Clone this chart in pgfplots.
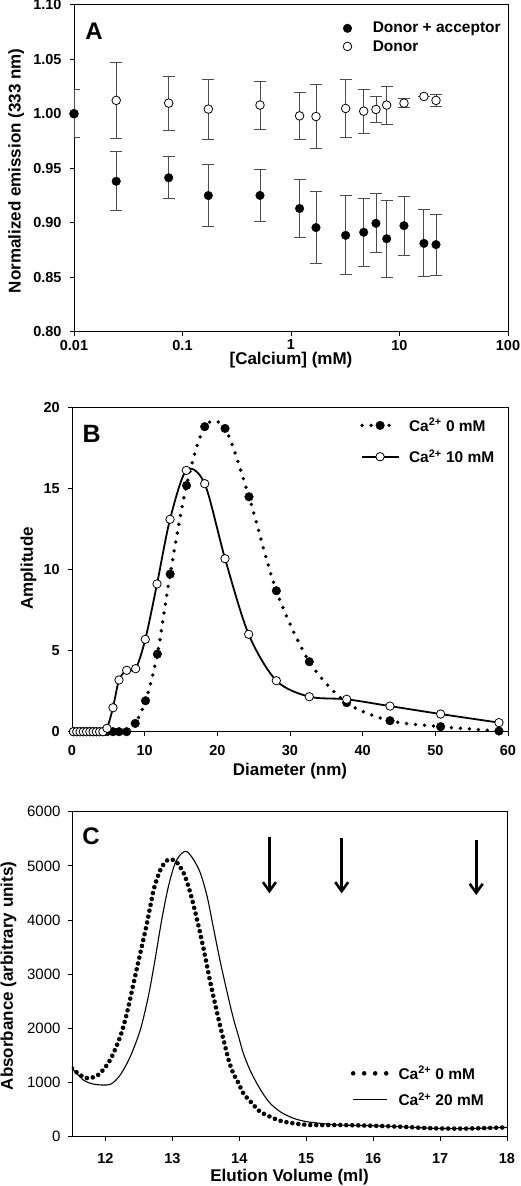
\documentclass[border=0pt]{standalone}
\usepackage{fontspec}
\setmainfont{Liberation Sans}
\usepackage{pgfplots}
\pgfplotsset{compat=1.18}
\usetikzlibrary{arrows.meta}

\pgfplotsset{
  common/.style={
    scale only axis,
    anchor=south west,
    axis line style={line width=0.8pt, black},
    tick align=outside, tick pos=left,
    major tick length=4pt,
    tick style={line width=0.8pt, black},
    ticklabel style={font=\bfseries\fontsize{14.5}{16}\selectfont, inner sep=0pt},
    /pgf/number format/assume math mode=true,
    label style={font=\bfseries\fontsize{17}{19}\selectfont, anchor=center},
    clip mode=individual,
    legend cell align=left,
    scaled ticks=false,
  },
  eb/.style={error bars/.cd, y dir=both, y explicit,
    error bar style={line width=0.9pt, black!70},
    error mark options={rotate=90, mark size=6pt, line width=0.9pt, black!70}},
  markimg/.style={legend image code/.code={\draw[##1] plot coordinates {(0pt,0pt)};}},
  marklineimg/.style={legend image code/.code={\draw[##1, mark repeat=2, mark phase=2] plot coordinates {(-18pt,0pt) (0pt,0pt) (18pt,0pt)};}},
  dotimg/.style={legend image code/.code={\draw[##1, dash pattern=on 0pt off 11pt] plot coordinates {(-17pt,0pt) (17pt,0pt)};}},
  lineimg/.style={legend image code/.code={\draw[##1] plot coordinates {(-17pt,0pt) (17pt,0pt)};}},
}

\begin{document}
\begin{tikzpicture}
\path[use as bounding box] (0pt,0pt) rectangle (520pt,1186pt);

% ---------------- Panel A ----------------
\begin{axis}[common,
  at={(74pt,854.3pt)}, width=434pt, height=327pt,
  xmode=log, xmin=0.01, xmax=100, ymin=0.8, ymax=1.1,
  xtick={0.01,0.1,1,10,100}, xticklabels={0.01,0.1,1,10,100},
  xminorticks=false,
  ytick={0.8,0.85,0.9,0.95,1.0,1.05,1.1},
  yticklabels={0.80,0.85,0.90,0.95,1.00,1.05,1.10},
  xticklabel shift=4pt, yticklabel shift=8.3pt,
  xlabel={[Calcium] (mM)}, ylabel={Normalized emission (333 nm)},
  xlabel style={at={(axis description cs:0.5,-0.088)}},
  ylabel style={at={(axis description cs:-0.133,0.492)}},
  reverse legend,
  legend style={at={(axis description cs:0.6198,0.947)}, anchor=north west,
    draw=none, fill=none, inner sep=0pt, row sep=6pt,
    font=\bfseries\fontsize{15.5}{17}\selectfont,
    nodes={inner sep=0pt},
    /tikz/every odd column/.append style={column sep=21pt}},
]
\addplot[only marks, mark=*, mark size=4.3pt, mark options={fill=white, draw=black, line width=0.8pt},
  markimg, eb]
  table[x=x, y=y, y error plus=ep, y error minus=em] {
x y ep em
0.01 1.000 0.0226 0.022
0.0245 1.0122 0.035 0.0351
0.0746 1.0097 0.0243 0.0249
0.173 1.0042 0.027 0.0277
0.518 1.0079 0.0218 0.0225
1.20 0.998 0.0216 0.0215
1.70 0.9974 0.0292 0.0294
3.19 1.0048 0.0267 0.027
4.68 1.0023 0.02 0.0203
6.07 1.0039 0.0116 0.012
7.62 1.0079 0.0169 0.0175
11.0 1.0097 0.0043 0.0043
16.8 1.0158 0 0
21.7 1.0122 0.0052 0.0059
};
\addlegendentry{Donor}
\addplot[only marks, mark=*, mark size=4.3pt, mark options={fill=black, draw=black},
  markimg, eb]
  table[x=x, y=y, y error plus=ep, y error minus=em] {
x y ep em
0.01 1.000 0.0226 0.022
0.0245 0.938 0.0278 0.027
0.0746 0.9412 0.02 0.0193
0.173 0.9249 0.0283 0.0279
0.518 0.925 0.0242 0.0237
1.20 0.913 0.027 0.0265
1.70 0.8955 0.0331 0.0329
3.19 0.8884 0.0365 0.0363
4.68 0.8912 0.031 0.0311
6.07 0.8994 0.0271 0.0264
7.62 0.8853 0.035 0.0353
11.0 0.8973 0.027 0.027
16.8 0.881 0.0313 0.0304
21.7 0.8799 0.0278 0.0287
};
\addlegendentry{Donor + acceptor}
\node[font=\bfseries\fontsize{24}{26}\selectfont, inner sep=0pt] at (axis description cs:0.046,0.919) {A};
\end{axis}

% ---------------- Panel B ----------------
\begin{axis}[common,
  at={(72pt,454.3pt)}, width=436pt, height=324pt,
  xmin=0, xmax=60, ymin=0, ymax=20,
  xtick={0,10,...,60}, ytick={0,5,...,20},
  xticklabel shift=9.3pt, yticklabel shift=8pt,
  xlabel={Diameter (nm)}, ylabel={Amplitude},
  xlabel style={at={(axis description cs:0.5,-0.121)}},
  ylabel style={at={(axis description cs:-0.100,0.504)}},
  legend style={at={(axis description cs:0.6606,0.968)}, anchor=north west,
    draw=none, fill=none, inner sep=0pt, row sep=17pt,
    font=\bfseries\fontsize{15.5}{17}\selectfont,
    nodes={inner sep=0pt},
    /tikz/every odd column/.append style={column sep=9pt}},
]
\addplot[smooth, black, line width=3.8pt, line cap=round, dash pattern=on 0pt off 9pt,
  mark=*, mark size=4.3pt, mark options={solid, fill=black, line width=0.4pt},
  marklineimg]
  table {
x y
0.2 0
0.65 0
1.1 0
1.55 0
2.0 0
2.45 0
2.9 0
3.35 0
3.8 0
4.25 0
4.82 0
5.64 0
6.47 0
7.52 0
8.70 0.51
10.12 1.91
11.75 4.79
13.51 9.73
15.76 15.2
18.26 18.83
21.06 18.72
24.36 14.5
28.12 8.70
32.66 4.32
37.80 1.79
43.76 0.68
50.73 0.31
58.76 0.04
};
\addlegendentry{Ca\textsuperscript{2+} 0 mM}
\addplot[smooth, black, line width=1.8pt,
  mark=*, mark size=4.2pt, mark options={fill=white, draw=black, line width=0.8pt},
  marklineimg]
  table {
x y
0.2 0
0.65 0
1.1 0
1.55 0
2.0 0
2.45 0
2.9 0
3.35 0
3.8 0
4.25 0
4.82 0.21
5.64 1.48
6.47 3.19
7.52 3.79
8.76 3.89
10.09 5.70
11.70 9.12
13.49 13.11
15.73 16.13
18.26 15.31
21.06 10.68
24.31 6.01
28.12 3.15
32.66 2.16
37.80 2.00
43.76 1.58
50.73 1.09
58.76 0.56
};
\addlegendentry{Ca\textsuperscript{2+} 10 mM}
\node[font=\bfseries\fontsize{25}{27}\selectfont, inner sep=0pt] at (axis description cs:0.045,0.919) {B};
\end{axis}

% ---------------- Panel C ----------------
\begin{axis}[common,
  at={(72pt,49.3pt)}, width=435pt, height=325pt,
  xmin=11.5, xmax=18, ymin=0, ymax=6000,
  xtick={12,13,...,18}, ytick={0,1000,...,6000},
  yticklabels={0,1000,2000,3000,4000,5000,6000},
  yticklabel style={font=\fontsize{15}{17}\selectfont},
  xticklabel shift=12.5pt, yticklabel shift=7.3pt,
  xlabel={Elution Volume (ml)}, ylabel={Absorbance (arbitrary units)},
  xlabel style={at={(axis description cs:0.5,-0.1255)}},
  ylabel style={at={(axis description cs:-0.146,0.495)}},
  legend style={at={(axis description cs:0.6407,0.2175)}, anchor=north west,
    draw=none, fill=none, inner sep=0pt, row sep=12pt,
    font=\bfseries\fontsize{15.5}{17}\selectfont,
    nodes={inner sep=0pt},
    /tikz/every odd column/.append style={column sep=9pt}},
]
\addplot[smooth, black, line width=4.6pt, line cap=round, dash pattern=on 0pt off 6pt,
  dotimg]
  table {
x y
11.50 1263
11.62 1140
11.74 1078
11.84 1108
11.92 1170
12.07 1416
12.22 1846
12.32 2278
12.42 2832
12.52 3386
12.62 3940
12.72 4554
12.82 4923
12.92 5100
13.04 5100
13.17 4862
13.27 4493
13.37 4000
13.47 3447
13.57 2832
13.67 2278
13.74 1909
13.79 1661
13.84 1416
13.91 1170
13.99 986
14.06 801
14.19 617
14.31 462
14.46 369
14.61 295
14.81 247
15.06 216
15.46 216
15.91 205
16.40 185
16.90 155
17.40 150
17.95 170
18.00 165
};
\addlegendentry{Ca\textsuperscript{2+} 0 mM}
\addplot[smooth, black, line width=1.1pt, lineimg]
  table {
x y
11.50 1263
11.67 1047
11.84 967
12.07 967
12.22 1139
12.37 1477
12.52 1970
12.64 2585
12.74 3262
12.84 4000
12.94 4615
13.04 5047
13.14 5232
13.22 5262
13.32 5108
13.42 4862
13.52 4431
13.61 3877
13.71 3262
13.81 2708
13.91 2190
13.99 1846
14.06 1540
14.16 1231
14.29 923
14.44 646
14.61 462
14.81 340
15.01 277
15.31 234
15.46 216
15.91 205
16.40 185
16.90 155
17.40 150
17.95 170
18.00 165
};
\addlegendentry{Ca\textsuperscript{2+} 20 mM}
\draw[line width=2.6pt, -{Straight Barb[length=9pt, width=13pt, line width=2.6pt]}] (axis cs:14.45,5538) -- (axis cs:14.45,4493);
\draw[line width=2.6pt, -{Straight Barb[length=9pt, width=13pt, line width=2.6pt]}] (axis cs:15.53,5520) -- (axis cs:15.53,4493);
\draw[line width=2.6pt, -{Straight Barb[length=9pt, width=13pt, line width=2.6pt]}] (axis cs:17.54,5477) -- (axis cs:17.54,4462);
\node[font=\bfseries\fontsize{24}{26}\selectfont, inner sep=0pt] at (axis description cs:0.0437,0.923) {C};
\end{axis}
\end{tikzpicture}
\end{document}
